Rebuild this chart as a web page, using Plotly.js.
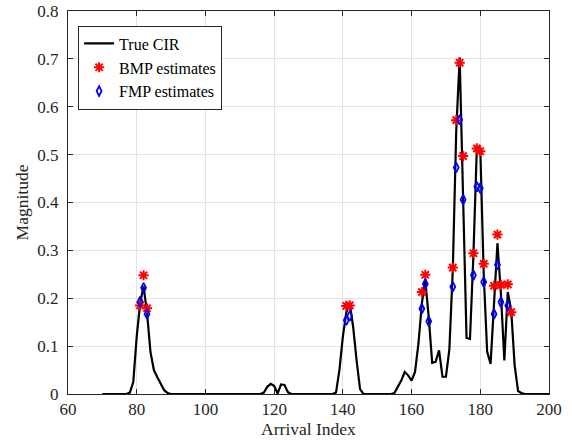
<!DOCTYPE html>
<html>
<head>
<meta charset="utf-8">
<script src="https://cdn.plot.ly/plotly-3.0.1.min.js"></script>
<style>html,body{margin:0;padding:0;background:#fff;}#chart{width:572px;height:440px;}</style>
</head>
<body>
<div id="chart"></div>
<script>
// Arrival indices 70..200 for the true CIR
const cirStart = 70;
const cirMagnitude = [
  0, 0, 0, 0, 0, 0, 0, 0, 0.003, 0.025,            // 70-79
  0.12, 0.19, 0.225, 0.17, 0.088, 0.05, 0.035, 0.021, 0.008, 0.002, // 80-89
  0, 0, 0, 0, 0, 0, 0, 0, 0, 0,                   // 90-99
  0, 0, 0, 0, 0, 0, 0, 0, 0, 0,                   // 100-109
  0, 0, 0, 0, 0, 0, 0, 0.003, 0.015, 0.021,       // 110-119
  0.017, 0.001, 0.02, 0.019, 0.004, 0, 0, 0, 0, 0, // 120-129
  0, 0, 0, 0, 0, 0, 0, 0, 0.003, 0.05,            // 130-139
  0.12, 0.17, 0.19, 0.14, 0.07, 0.01, 0, 0, 0, 0, // 140-149
  0, 0, 0, 0, 0, 0.002, 0.015, 0.028, 0.046, 0.039, // 150-159
  0.028, 0.046, 0.105, 0.19, 0.237, 0.16, 0.065, 0.067, 0.091, 0.036, // 160-169
  0.036, 0.093, 0.26, 0.55, 0.703, 0.43, 0.117, 0.115, 0.29, 0.515,   // 170-179
  0.512, 0.25, 0.088, 0.063, 0.19, 0.315, 0.21, 0.07, 0.213, 0.175,  // 180-189
  0.06, 0.006, 0.002, 0, 0, 0, 0, 0, 0, 0,        // 190-199
  0                                               // 200
];
const cirIndex = cirMagnitude.map((_, k) => cirStart + k);

const bmpIndex = [81, 82, 83, 141, 142, 163, 164, 172, 173, 174, 175, 178, 179, 180, 181, 184, 185, 186, 188, 189];
const bmpValue = [0.185, 0.248, 0.179, 0.184, 0.185, 0.213, 0.249, 0.264, 0.572, 0.692, 0.497, 0.294, 0.513, 0.507, 0.272, 0.226, 0.333, 0.228, 0.229, 0.171];

const fmpIndex = [81, 82, 83, 141, 142, 163, 164, 165, 172, 173, 174, 175, 178, 179, 180, 181, 184, 185, 186, 188];
const fmpValue = [0.193, 0.222, 0.167, 0.154, 0.163, 0.178, 0.23, 0.152, 0.224, 0.473, 0.573, 0.406, 0.248, 0.433, 0.43, 0.234, 0.167, 0.27, 0.192, 0.185];

const xTicks = [60, 80, 100, 120, 140, 160, 180, 200];
const yTicks = [0, 0.1, 0.2, 0.3, 0.4, 0.5, 0.6, 0.7, 0.8];
const yTickText = ['0', '0.1', '0.2', '0.3', '0.4', '0.5', '0.6', '0.7', '0.8'];

const FONT = 'Liberation Serif';

const traces = [
  {x: cirIndex, y: cirMagnitude, type: 'scatter', mode: 'lines', name: 'True CIR',
   line: {color: '#000000', width: 2.2}},
  {x: bmpIndex, y: bmpValue, type: 'scatter', mode: 'markers', name: 'BMP estimates',
   marker: {symbol: 'asterisk-open', size: 8.5, color: '#ff0000', line: {color: '#ff0000', width: 2}}},
  {x: fmpIndex, y: fmpValue, type: 'scatter', mode: 'markers', name: 'FMP estimates',
   marker: {symbol: 'diamond-tall-open', size: 7, color: '#0000ff', line: {color: '#0000ff', width: 1.8}}}
];

const axisCommon = {
  showline: true, mirror: 'ticks', linecolor: '#262626', linewidth: 1,
  ticks: 'inside', ticklen: 5, tickcolor: '#262626', tickwidth: 1,
  showgrid: true, gridcolor: '#e3e3e3', gridwidth: 1, zeroline: false,
  ticklabeloverflow: 'allow',
  tickfont: {family: FONT, size: 17, color: '#262626'}
};

const layout = {
  width: 572, height: 440,
  margin: {l: 68, r: 23, t: 11, b: 46},
  paper_bgcolor: '#ffffff', plot_bgcolor: '#ffffff',
  font: {family: FONT, color: '#262626'},
  showlegend: true,
  legend: {x: 0.021, y: 0.962, xanchor: 'left', yanchor: 'top',
           bgcolor: '#ffffff', bordercolor: '#262626', borderwidth: 1,
           font: {family: FONT, size: 16, color: '#000000'},
           tracegroupgap: 0, itemwidth: 30},
  xaxis: Object.assign({}, axisCommon, {
    range: [60, 200], tickvals: xTicks, ticktext: xTicks.map(String),
    title: {text: 'Arrival Index', font: {family: FONT, size: 17.5, color: '#262626'}, standoff: 4}
  }),
  yaxis: Object.assign({}, axisCommon, {
    range: [0, 0.8], tickvals: yTicks, ticktext: yTickText, ticklabelstandoff: 5,
    title: {text: 'Magnitude', font: {family: FONT, size: 17.5, color: '#262626'}, standoff: 4}
  })
};

Plotly.newPlot('chart', traces, layout, {displayModeBar: false, staticPlot: true});
</script>
</body>
</html>
